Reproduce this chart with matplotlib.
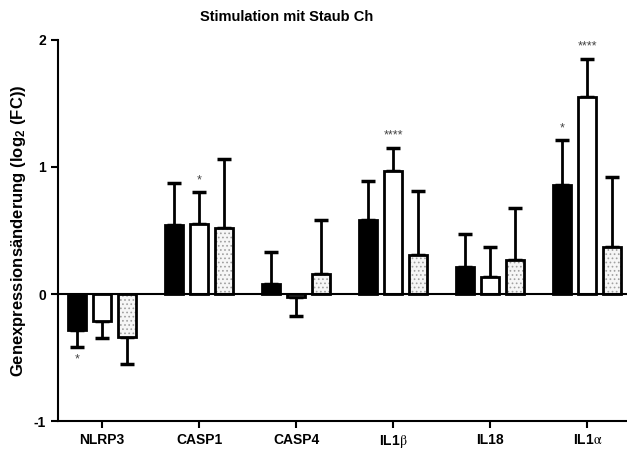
import matplotlib as mpl
mpl.use("agg")

import matplotlib.pyplot as plt
import numpy as np

plt.rcParams['font.family'] = ['Liberation Sans', 'DejaVu Sans']
plt.rcParams['mathtext.fontset'] = 'stix'

genes = ["NLRP3", "CASP1", "CASP4", r"IL1$\mathrm{\beta}$", "IL18", r"IL1$\mathrm{\alpha}$"]

# log2 fold change, three conditions per gene
black_vals = [-0.28, 0.54, 0.08, 0.58, 0.21, 0.86]
white_vals = [-0.21, 0.55, -0.02, 0.97, 0.13, 1.55]
dotted_vals = [-0.34, 0.52, 0.16, 0.31, 0.27, 0.37]

# end of the one-sided error bar
black_err = [-0.42, 0.87, 0.33, 0.89, 0.47, 1.21]
white_err = [-0.35, 0.80, -0.17, 1.15, 0.37, 1.85]
dotted_err = [-0.55, 1.06, 0.58, 0.81, 0.68, 0.92]

# significance marks: (gene index, series index, text)
stars = [(0, 0, "*"), (1, 1, "*"), (3, 1, "****"), (5, 0, "*"), (5, 1, "****")]


fig = plt.figure(figsize=(6.27, 4.5), dpi=100)
ax = fig.add_axes([0.0925, 0.0644, 0.9075, 0.8468])

x = np.arange(len(genes))
pitch = 0.258
width = 0.19

series = [
    (black_vals, black_err, "black", None),
    (white_vals, white_err, "white", None),
    (dotted_vals, dotted_err, "#f6f6f6", "...."),
]

for k, (vals, errs, fc, hatch) in enumerate(series):
    xs = x + (k - 1) * pitch
    vals = np.array(vals)
    errs = np.array(errs)
    lo = np.where(vals < 0, vals - errs, 0)
    hi = np.where(vals >= 0, errs - vals, 0)
    ax.errorbar(xs, vals, yerr=[lo, hi], fmt="none", ecolor="black",
                elinewidth=2, capsize=5, capthick=2.5, zorder=1)
    if hatch:
        plt.rcParams['hatch.linewidth'] = 0.7
        ax.bar(xs, vals, width, color=fc, edgecolor="#a0a0a0", hatch=hatch,
               linewidth=0, zorder=2)
        ax.bar(xs, vals, width, fill=False, edgecolor="black", linewidth=2, zorder=3)
    else:
        ax.bar(xs, vals, width, color=fc, edgecolor="black", linewidth=2, zorder=2)

all_err = [black_err, white_err, dotted_err]
for g, s, txt in stars:
    xs = x[g] + (s - 1) * pitch
    e = all_err[s][g]
    if e < 0:
        ax.text(xs, e - 0.05, txt, ha="center", va="top", fontsize=9, color="#444444")
    else:
        ax.text(xs, e + 0.05, txt, ha="center", va="bottom", fontsize=9, color="#444444")

ax.axhline(0, color="black", linewidth=1.5, zorder=4)

ax.set_xlim(-0.455, 5.41)
ax.set_ylim(-1, 2)
ax.set_yticks([-1, 0, 1, 2])
ax.set_yticklabels(["-1", "0", "1", "2"], fontweight="bold", fontsize=10)
ax.set_xticks(x)
ax.set_xticklabels(genes, fontweight="bold", fontsize=10)

for side in ["top", "right"]:
    ax.spines[side].set_visible(False)
for side in ["left", "bottom"]:
    ax.spines[side].set_linewidth(1.5)
ax.tick_params(width=1.5, length=5)

ax.set_ylabel(r"Genexpressionsänderung (log$_\mathregular{2}$ (FC))", fontweight="bold", fontsize=12)
fig.text(0.457, 0.962, "Stimulation mit Staub Ch", fontweight="bold", fontsize=10.5,
         ha="center", va="center")

fig.savefig("out.png", dpi=100)
